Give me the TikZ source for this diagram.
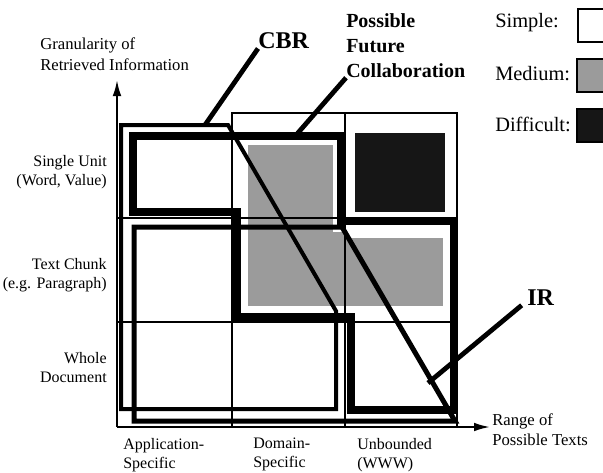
\documentclass[tikz,border=0pt]{standalone}
\usepackage{fontspec}
\setmainfont{Liberation Serif}
\usetikzlibrary{arrows.meta, positioning}
\definecolor{medgray}{RGB}{155, 155, 155}
\definecolor{hardblack}{RGB}{22, 22, 22}

\tikzset{
    gridline/.style={line width=1.1pt},
    axisline/.style={line width=1.5pt},
    leader/.style={line width=3.6pt},
    lbl/.style={inner sep=0pt, font=\fontsize{12.5}{14}\selectfont},
    catlbl/.style={inner sep=0pt, font=\fontsize{12}{14}\selectfont},
    leglbl/.style={inner sep=0pt, font=\fontsize{15.3}{18}\selectfont},
    tag/.style={inner sep=0pt, font=\bfseries\fontsize{18}{20}\selectfont},
    legbox/.style={draw, line width=1.5pt, minimum width=27pt, minimum height=25pt, inner sep=0pt}
}

\begin{document}
\begin{tikzpicture}[x={(0.75pt,0pt)}, y={(0pt,-0.75pt)}, >={Latex[length=12pt,width=6.5pt]}, line join=miter]
    \useasboundingbox (0,0) rectangle (603,472);

    % difficulty of the cells
    \fill[medgray] (248,145) rectangle (333,232);
    \fill[medgray] (248,232) rectangle (345,306);
    \fill[medgray] (345,238) rectangle (443,306);
    \fill[hardblack] (355,133) rectangle (445,212);

    % grid
    \draw[gridline] (232,427) -- (232,113) -- (457,113) -- (457,427);
    \draw[gridline] (345,113) -- (345,427);
    \draw[gridline] (117,218) -- (457,218);
    \draw[gridline] (117,322) -- (457,322);

    % CBR, IR and future collaboration
    \draw[line width=3pt] (121,125) -- (228,125) -- (336,311) -- (336,409) -- (121,409) -- cycle;
    \draw[line width=3.75pt] (134,227) -- (342,227) -- (455,421) -- (134,421) -- cycle;
    \draw[line width=5.6pt] (133,136) -- (341,136) -- (341,221) -- (454,221) -- (454,410)
        -- (351,410) -- (351,317) -- (237,317) -- (237,212) -- (133,212) -- cycle;

    % axes
    \coordinate (origin) at (117,427);
    \coordinate (ytip) at (117,80);
    \coordinate (xtip) at (490,427);
    \draw[axisline, ->] (origin) -- (ytip);
    \draw[axisline, ->] (origin) -- (xtip);

    \node[lbl, anchor=north west, align=left] (yaxis) at (40,37)
        {Granularity of\\[2pt]Retrieved Information};
    \node[lbl, anchor=north west, align=left] (xaxis) at (492,413)
        {Range of\\[1pt]Possible Texts};

    \node[catlbl, anchor=north east, align=right] (single) at (107,155) {Single Unit\\(Word, Value)};
    \node[catlbl, anchor=north east, align=right] (chunk) at (107,258) {Text Chunk\\(e.g. Paragraph)};
    \node[catlbl, anchor=north east, align=right] (whole) at (107,352) {Whole\\Document};

    \node[catlbl, anchor=north west, align=left] (appl) at (123,438) {Application-\\Specific};
    \node[catlbl, anchor=north west, align=left] (domain) at (253,438) {Domain-\\Specific};
    \node[catlbl, anchor=north west, align=left] (unbound) at (357,438) {Unbounded\\(WWW)};

    % labels with leaders
    \node[tag, anchor=base west] (cbr) at (258,48) {CBR};
    \node[tag, anchor=base west] (ir) at (527,305) {IR};
    \node[inner sep=0pt, anchor=north west, align=left, font=\bfseries\fontsize{15}{18.8}\selectfont]
        (collab) at (346,13) {Possible\\Future\\Collaboration};
    \coordinate (cbrend) at (205,125);
    \coordinate (irend) at (428,383);
    \coordinate (collabend) at (297,134);
    \draw[leader] (cbr.south west) -- (cbrend);
    \draw[leader] ([xshift=-4]ir.south west) -- (irend);
    \draw[leader] (collab.south west) -- (collabend);

    % legend
    \node[leglbl, anchor=base west] (simple) at (495,27) {Simple:};
    \node[leglbl, anchor=base west] (medium) at (495,80) {Medium:};
    \node[leglbl, anchor=base west] (difficult) at (495,131) {Difficult:};
    \node[legbox, fill=white, anchor=north west] (simplebox) at (577,8) {};
    \node[legbox, fill=medgray, anchor=north west] (mediumbox) at (576,58) {};
    \node[legbox, fill=hardblack, anchor=north west] (difficultbox) at (576,108) {};
\end{tikzpicture}
\end{document}
